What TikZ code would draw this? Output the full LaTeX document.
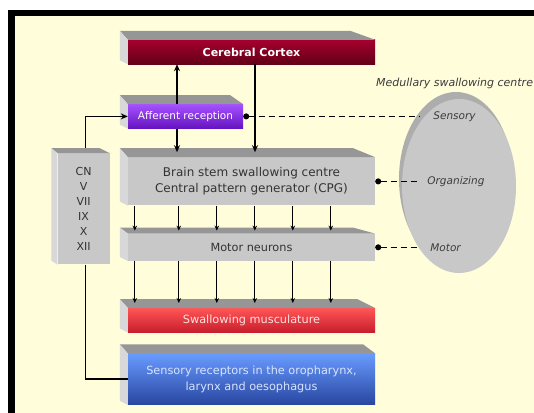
\documentclass[tikz,border=0pt]{standalone}
\usepackage{fontspec}
\setmainfont{DejaVu Sans}
\usepackage{tikz}
\usetikzlibrary{shapes.geometric, arrows.meta, positioning}
\definecolor{paper}{RGB}{255,253,218}
\definecolor{slabgrey}{RGB}{200,200,200}
\definecolor{topgrey}{RGB}{150,150,150}
\definecolor{sidegrey}{RGB}{216,216,216}
\definecolor{labelgrey}{RGB}{60,60,60}
\tikzstyle{slab} = [rectangle, minimum width=247pt, inner sep=0pt, text centered, align=center, font=\fontsize{11.3}{16}\selectfont]
\tikzstyle{greyslab} = [slab, fill=slabgrey, text=black!80]
\tikzstyle{cortex} = [slab, minimum height=24pt, top color={rgb,255:red,165;green,0;blue,45}, bottom color={rgb,255:red,100;green,0;blue,25}, text=white, font=\fontsize{11}{12}\selectfont\bfseries]
\tikzstyle{afferent} = [slab, minimum width=115pt, minimum height=24pt, top color={rgb,255:red,165;green,80;blue,255}, bottom color={rgb,255:red,100;green,20;blue,190}, text=white, font=\fontsize{10.5}{12}\selectfont]
\tikzstyle{muscle} = [slab, minimum height=24pt, top color={rgb,255:red,255;green,85;blue,85}, bottom color={rgb,255:red,200;green,30;blue,45}, text={rgb,255:red,255;green,225;blue,225}]
\tikzstyle{receptor} = [slab, minimum height=51pt, top color={rgb,255:red,105;green,155;blue,255}, bottom color={rgb,255:red,40;green,70;blue,160}, text={rgb,255:red,215;green,228;blue,255}]
\tikzstyle{sidelabel} = [anchor=west, inner sep=0pt, text=labelgrey, font=\fontsize{10.5}{12}\selectfont\itshape]
\tikzstyle{arrow} = [line width=2pt, -{Stealth[length=7pt,width=6pt]}]
\tikzstyle{thinarrow} = [line width=1.2pt, -{Stealth[length=5pt,width=4.5pt]}]
\tikzstyle{link} = [line width=1.5pt]
\tikzstyle{dashlink} = [line width=1.3pt, dash pattern=on 6pt off 4pt, {Circle[length=6pt,width=6pt]}-]
% top and left faces of a slab: node, depth x, depth y, shrink of the back edge
\newcommand{\slabfaces}[4]{%
  \fill[topgrey] (#1.north west) -- (#1.north east) -- ([xshift=-#4pt, yshift=#3pt]#1.north east) -- ([xshift=-#2pt, yshift=#3pt]#1.north west) -- cycle;
  \fill[sidegrey] (#1.north west) -- ([xshift=-#2pt, yshift=#3pt]#1.north west) -- ([xshift=-#2pt, yshift=4pt]#1.south west) -- (#1.south west) -- cycle;
}

\begin{document}
\begin{tikzpicture}[x=1pt, y=-1pt]
    \useasboundingbox (0,0) rectangle (534,412);
    \clip (0,0) rectangle (534,412);
    \fill[white] (0,0) rectangle (534,412);
    \draw[line width=6.5pt, fill=paper] (11.5,13) rectangle (560,440);

    % medullary centre
    \fill[black!32] (456,179) ellipse [x radius=57, y radius=87];
    \node (medulla) [ellipse, minimum width=114pt, minimum height=174pt, inner sep=0pt, fill=slabgrey] at (459,186) {};
    \node (medlabel) [sidelabel, font=\fontsize{11}{12}\selectfont\itshape] at (376,83) {Medullary swallowing centre};

    % the stack
    \node (cortex) [cortex] at (251.5,52) {Cerebral Cortex};
    \node (afferent) [afferent, below=40pt of cortex.south west, anchor=north west] {Afferent reception};
    \node (cpg) [greyslab, minimum height=48pt, font=\fontsize{12}{16}\selectfont, below=93pt of cortex] {Brain stem swallowing centre\\Central pattern generator (CPG)};
    \node (motor) [greyslab, minimum height=27pt, below=28pt of cpg] {Motor neurons};
    \node (muscles) [muscle, below=47pt of motor] {Swallowing musculature};
    \node (receptors) [receptor, below=21pt of muscles] {Sensory receptors in the oropharynx,\\larynx and oesophagus};
    \node (cn) [greyslab, minimum width=52pt, minimum height=111pt, font=\fontsize{11}{15}\selectfont, left=18pt of cpg.north west, anchor=north east, yshift=4pt] {CN\\V\\VII\\IX\\X\\XII};

    \slabfaces{cortex}{8}{9}{25}
    \slabfaces{afferent}{8}{9}{13}
    \slabfaces{cpg}{8}{9}{22}
    \slabfaces{motor}{8}{6}{22}
    \slabfaces{muscles}{8}{9}{18}
    \slabfaces{receptors}{8}{9}{12}
    \slabfaces{cn}{6}{5}{10}

    \node (senslabel) [sidelabel, right=190pt of afferent.east] {Sensory};
    \node (orglabel) [sidelabel, right=52pt of cpg.east] {Organizing};
    \node (motorlabel) [sidelabel, right=55pt of motor.east] {Motor};

    \draw [arrow] ([xshift=-8.5pt]afferent.north) -- ([xshift=-8.5pt]afferent.north |- cortex.south);
    \draw [arrow] ([xshift=3.5pt]cortex.south) -- ([xshift=3.5pt, yshift=5pt]cortex.south |- cpg.north);
    \draw [arrow] ([xshift=-8.5pt]afferent.south) -- ([xshift=-8.5pt, yshift=5pt]afferent.south |- cpg.north);
    \foreach \dx in {7,51,89,127,165,203} {
        \draw [thinarrow] ([xshift=\dx pt]cpg.south west) -- ([xshift=\dx pt, yshift=3pt]motor.north west);
        \draw [thinarrow] ([xshift=\dx pt]motor.south west) -- ([xshift=\dx pt, yshift=5pt]muscles.north west);
    }
    \draw [arrow, line width=1.5pt] ([xshift=2pt, yshift=5pt]cn.north) |- (afferent.west);
    \draw [link] ([xshift=2pt]cn.south) |- (receptors.west);

    \draw [dashlink] (afferent.east) -- ([xshift=-14pt]afferent.east -| senslabel.west);
    \draw [dashlink] (cpg.east) -- ([xshift=-10pt]cpg.east -| orglabel.west);
    \draw [dashlink] (motor.east) -- ([xshift=-13pt]motor.east -| motorlabel.west);
\end{tikzpicture}
\end{document}
